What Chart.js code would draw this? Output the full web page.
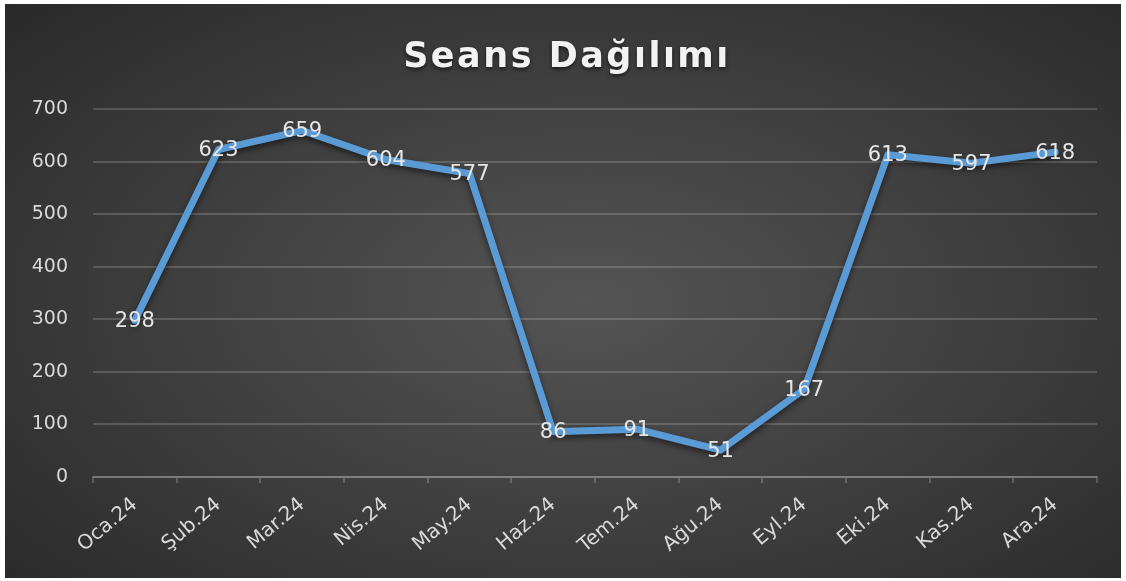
<!DOCTYPE html>
<html>
<head>
<meta charset="utf-8">
<script src="https://cdn.jsdelivr.net/npm/chart.js"></script>
<style>
  html, body { margin: 0; padding: 0; background: #ffffff; }
  #wrap {
    position: absolute; left: 5px; top: 4px; width: 1116px; height: 574px;
    background: radial-gradient(ellipse 75% 80% at 52% 52%, #545454 0%, #3e3e3e 50%, #272727 100%);
  }
</style>
</head>
<body>
<div id="wrap"><canvas id="line-chartcanvas"></canvas></div>
<script>
var months = ["Oca.24", "Şub.24", "Mar.24", "Nis.24", "May.24", "Haz.24",
              "Tem.24", "Ağu.24", "Eyl.24", "Eki.24", "Kas.24", "Ara.24"];
var seans = [298, 623, 659, 604, 577, 86, 91, 51, 167, 613, 597, 618];
var yTicks = [0, 100, 200, 300, 400, 500, 600, 700];
var chartTitle = "Seans Dağılımı";

var fontName = "'DejaVu Sans', sans-serif";

// title drawn by hand so it can have letter spacing like the original
var titlePlugin = {
	id : "spacedTitle",
	afterDraw : function(chart) {
		var ctx = chart.ctx;
		ctx.save();
		ctx.font = "bold 35px " + fontName;
		ctx.letterSpacing = "2.5px";
		ctx.fillStyle = "#f2f2f2";
		ctx.textAlign = "center";
		ctx.textBaseline = "middle";
		ctx.shadowColor = "rgba(0,0,0,0.6)";
		ctx.shadowBlur = 4;
		ctx.shadowOffsetY = 2;
		ctx.fillText(chartTitle, chart.width / 2 + 4, 54);
		ctx.restore();
	}
};

// value labels centred on each point
var labelPlugin = {
	id : "pointLabels",
	afterDatasetsDraw : function(chart) {
		var ctx = chart.ctx;
		var meta = chart.getDatasetMeta(0);
		ctx.save();
		ctx.font = "21px " + fontName;
		ctx.fillStyle = "#e6e6e6";
		ctx.textAlign = "center";
		ctx.textBaseline = "middle";
		meta.data.forEach(function(pt, i) {
			ctx.fillText(String(seans[i]), pt.x, pt.y + 1);
		});
		ctx.restore();
	}
};

var shadowPlugin = {
	id : "lineShadow",
	beforeDatasetDraw : function(chart) {
		var ctx = chart.ctx;
		ctx.save();
		ctx.shadowColor = "rgba(0,0,0,0.55)";
		ctx.shadowBlur = 6;
		ctx.shadowOffsetY = 3;
	},
	afterDatasetDraw : function(chart) {
		chart.ctx.restore();
	}
};

var ctx = document.getElementById("line-chartcanvas");

var data = {
	labels : months,
	datasets : [
	{
		label : "Seans",
		data : seans,
		borderColor : "#5b9bd5",
		backgroundColor : "#5b9bd5",
		borderWidth : 7,
		fill : false,
		tension : 0,
		pointRadius : 0,
		borderJoinStyle : "round",
		borderCapStyle : "round"
	}
	]
};

var options = {
	responsive : true,
	maintainAspectRatio : false,
	animation : false,
	layout : { padding : { top : 105, right : 24, bottom : 0, left : 0 } },
	plugins : {
		legend : { display : false },
		title : { display : false },
		tooltip : { enabled : false }
	},
	scales : {
		x : {
			offset : true,
			grid : {
				offset : true,
				drawOnChartArea : false,
				drawTicks : true,
				tickLength : 6,
				color : "rgba(255,255,255,0.2)",
				lineWidth : 2
			},
			border : { color : "rgba(255,255,255,0.2)", width : 2 },
			ticks : {
				color : "#d9d9d9",
				font : { family : fontName, size : 20 },
				minRotation : 40,
				maxRotation : 40,
				padding : 10
			},
			afterFit : function(scale) { scale.height = 101; }
		},
		y : {
			min : 0,
			max : 700,
			afterBuildTicks : function(scale) {
				scale.ticks = yTicks.map(function(v) { return { value : v }; });
			},
			grid : {
				color : "rgba(255,255,255,0.17)",
				lineWidth : 2,
				drawTicks : false
			},
			border : { display : false },
			ticks : {
				color : "#d9d9d9",
				font : { family : fontName, size : 19 },
				padding : 25
			},
			afterFit : function(scale) { scale.width = 88; }
		}
	}
};

var chart = new Chart(ctx, {
	type : "line",
	data : data,
	options : options,
	plugins : [shadowPlugin, labelPlugin, titlePlugin]
});
</script>
</body>
</html>
